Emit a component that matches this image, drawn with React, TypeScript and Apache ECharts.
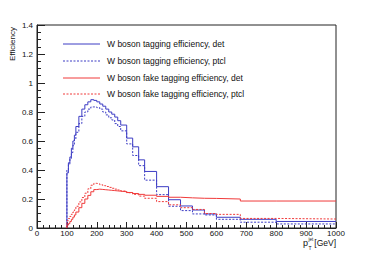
import React, { useEffect, useRef } from "react";
import * as echarts from "echarts";

// bin upper edges (bins start at 100 GeV)
const binEdges = [100, 105, 110, 115, 120, 125, 130, 140, 150, 160, 170, 180, 190, 200, 210, 220, 230, 240, 250, 260, 270, 280, 300, 320, 340, 360, 400, 440, 480, 520, 560, 600, 680, 800, 1000];

const wDet = [0.38, 0.45, 0.49, 0.55, 0.60, 0.64, 0.70, 0.77, 0.82, 0.85, 0.87, 0.885, 0.88, 0.87, 0.855, 0.84, 0.82, 0.80, 0.785, 0.765, 0.74, 0.71, 0.62, 0.56, 0.47, 0.39, 0.285, 0.195, 0.152, 0.124, 0.097, 0.074, 0.06, 0.045];
const wPtcl = [0.40, 0.44, 0.48, 0.52, 0.57, 0.61, 0.66, 0.72, 0.77, 0.80, 0.82, 0.835, 0.835, 0.83, 0.82, 0.80, 0.78, 0.76, 0.745, 0.72, 0.70, 0.67, 0.58, 0.50, 0.43, 0.33, 0.23, 0.15, 0.12, 0.097, 0.09, 0.06, 0.04, 0.028];
const fakeDet = [0.02, 0.03, 0.045, 0.06, 0.075, 0.09, 0.11, 0.14, 0.17, 0.20, 0.225, 0.25, 0.265, 0.268, 0.266, 0.264, 0.262, 0.26, 0.258, 0.256, 0.254, 0.25, 0.245, 0.238, 0.232, 0.226, 0.218, 0.212, 0.208, 0.205, 0.204, 0.20, 0.186, 0.186];
const fakePtcl = [0.05, 0.065, 0.08, 0.095, 0.11, 0.125, 0.15, 0.18, 0.21, 0.24, 0.27, 0.295, 0.308, 0.305, 0.298, 0.292, 0.286, 0.28, 0.274, 0.268, 0.262, 0.255, 0.243, 0.232, 0.22, 0.205, 0.182, 0.16, 0.14, 0.128, 0.10, 0.094, 0.066, 0.062];

const seriesNames = [
  "W boson tagging efficiency, det",
  "W boson tagging efficiency, ptcl",
  "W boson fake tagging efficiency, det",
  "W boson fake tagging efficiency, ptcl",
];

const BLUE = "#3c3cc4";
const RED = "#f03a3a";
const DASH = [2, 1.5];

function toSteps(vals: number[]): [number, number][] {
  const pts: [number, number][] = [[binEdges[0], 0]];
  for (let i = 0; i < vals.length; i++) pts.push([binEdges[i + 1], vals[i]]);
  return pts;
}

export default function App() {
  const ref = useRef<HTMLDivElement>(null);
  useEffect(() => {
    if (!ref.current) return;
    const chart = echarts.init(ref.current, null, { renderer: "svg" });
    const font = "'Liberation Sans', Arial, sans-serif";
    const styles = [
      { color: BLUE, dashed: false },
      { color: BLUE, dashed: true },
      { color: RED, dashed: false },
      { color: RED, dashed: true },
    ];
    const mk = (idx: number, vals: number[]) => ({
      name: seriesNames[idx],
      type: "line",
      step: "start",
      data: toSteps(vals),
      symbol: "none",
      lineStyle: { color: styles[idx].color, width: 1, type: styles[idx].dashed ? DASH : "solid" },
      itemStyle: { color: styles[idx].color },
    });
    const legendRows = [44, 61, 78, 94];
    const legendGraphics: any[] = [];
    seriesNames.forEach((n, i) => {
      legendGraphics.push({
        type: "line",
        shape: { x1: 63, y1: legendRows[i], x2: 100, y2: legendRows[i] },
        style: { stroke: styles[i].color, lineWidth: 1, lineDash: styles[i].dashed ? DASH : null },
      });
      legendGraphics.push({
        type: "text",
        x: 107,
        y: legendRows[i],
        style: { text: n, fontSize: 8.5, fill: "#111", fontFamily: font, verticalAlign: "middle", align: "left" },
      });
    });
    const txt = (text: string, x: number, y: number, size: number, align = "left") => ({
      type: "text",
      x,
      y,
      style: { text, fontSize: size, lineHeight: size, fill: "#111", fontFamily: font, align, verticalAlign: "middle" },
    });
    chart.setOption({
      animation: false,
      textStyle: { fontFamily: font },
      grid: { left: 37, top: 25, right: 38, bottom: 25, show: true, borderColor: "#222", borderWidth: 1, backgroundColor: "transparent" },
      graphic: [
        ...legendGraphics,
        {
          type: "text",
          x: 12,
          y: 27,
          rotation: Math.PI / 2,
          style: { text: "Efficiency", fontSize: 8, fill: "#111", fontFamily: font, align: "right", verticalAlign: "middle" },
        },
        txt("p", 303, 242.5, 9),
        txt("jet", 308.5, 239.2, 4.5),
        txt("T", 308.5, 248.3, 5),
        txt("[GeV]", 336, 242.5, 8.5, "right"),
      ],
      xAxis: {
        type: "value",
        min: 0,
        max: 1000,
        interval: 100,
        axisLine: { show: true, lineStyle: { color: "#222", width: 1 } },
        axisTick: { show: true, inside: true, length: 6, lineStyle: { color: "#222" } },
        minorTick: { show: true, splitNumber: 5, length: 3, lineStyle: { color: "#222" } },
        splitLine: { show: false },
        axisLabel: { fontSize: 8, lineHeight: 8, color: "#111", margin: 1.5, fontFamily: font, formatter: (v: number) => String(v) },
      },
      yAxis: {
        type: "value",
        min: 0,
        max: 1.4,
        interval: 0.2,
        axisLine: { show: true, lineStyle: { color: "#222", width: 1 } },
        axisTick: { show: true, inside: true, length: 8, lineStyle: { color: "#222" } },
        minorTick: { show: true, splitNumber: 4, length: 4, lineStyle: { color: "#222" } },
        splitLine: { show: false },
        axisLabel: { fontSize: 8, color: "#111", margin: 4, fontFamily: font },
      },
      series: [mk(0, wDet), mk(1, wPtcl), mk(2, fakeDet), mk(3, fakePtcl)],
    });
    return () => chart.dispose();
  }, []);
  return <div ref={ref} style={{ position: "fixed", left: 0, top: 0, width: 374, height: 253, background: "#fff" }} />;
}
